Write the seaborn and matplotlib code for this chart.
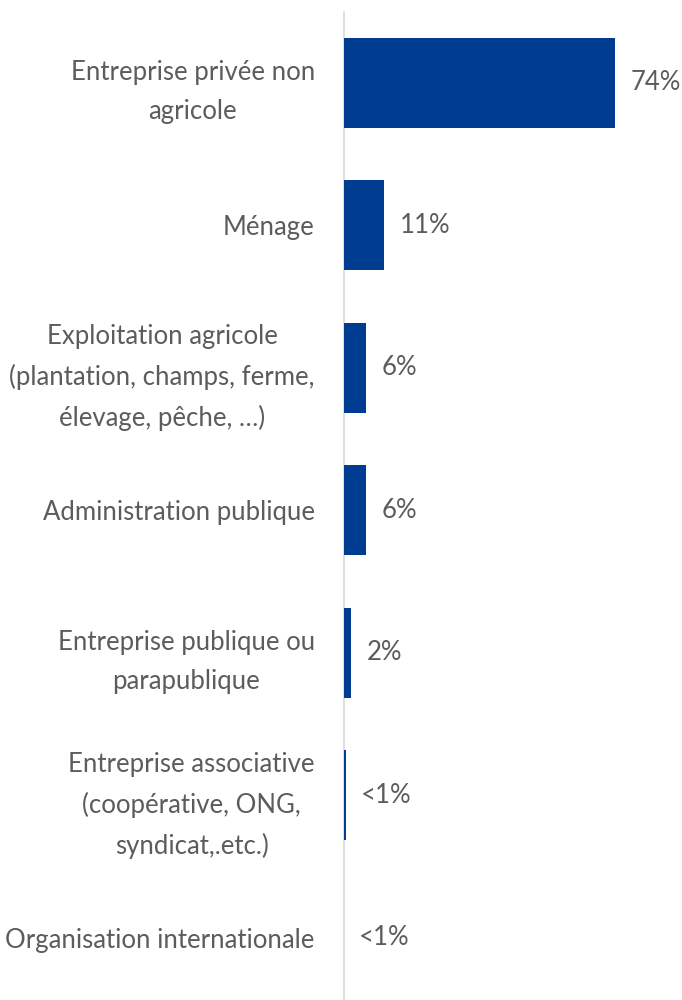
import matplotlib
matplotlib.use("Agg")
import matplotlib.pyplot as plt
import seaborn as sns
import pandas as pd

categories = [
    "Entreprise privée non\nagricole",
    "Ménage",
    "Exploitation agricole\n(plantation, champs, ferme,\nélevage, pêche, …)",
    "Administration publique",
    "Entreprise publique ou\nparapublique",
    "Entreprise associative\n(coopérative, ONG,\nsyndicat,.etc.)",
    "Organisation internationale",
]
values = [74, 11, 6, 6, 2, 0.5, 0]
value_labels = ["74%", "11%", "6%", "6%", "2%", "<1%", "<1%"]

sns.set_theme(style="white")
plt.rcParams["font.family"] = ["Lato", "DejaVu Sans"]

BAR = "#003C8F"
TXT = "#5c5c5c"
FS = 18.5
W = "normal"

df = pd.DataFrame({"cat": categories, "val": values})

fig = plt.figure(figsize=(6.82, 10), dpi=100)
ax = fig.add_axes([344 / 682, -0.009, 337 / 682, 0.9975])
sns.barplot(data=df, x="val", y="cat", color=BAR, width=0.63, ax=ax,
            saturation=1, orient="h", linewidth=0)
ax.set_xlim(0, 92)
ax.set_ylim(6.5, -0.5)
ax.set_xlabel("")
ax.set_ylabel("")
ax.set_xticks([])
for s in ["top", "right", "bottom"]:
    ax.spines[s].set_visible(False)
ax.spines["left"].set_color("#d9d9d9")
ax.spines["left"].set_linewidth(1.2)
ax.spines["left"].set_zorder(0)
ax.tick_params(axis="y", length=0, pad=21)
for lbl in ax.get_yticklabels():
    lbl.set_fontsize(FS)
    lbl.set_color(TXT)
    lbl.set_fontweight(W)
    lbl.set_horizontalalignment("right")
    lbl.set_multialignment("center")
    lbl.set_linespacing(1.7)

for i, (v, t) in enumerate(zip(values, value_labels)):
    ax.annotate(t, xy=(v, i), xytext=(11, 0), textcoords="offset points",
                va="center", ha="left", fontsize=FS, color=TXT,
                fontweight=W)

fig.savefig("out.png", dpi=100)
